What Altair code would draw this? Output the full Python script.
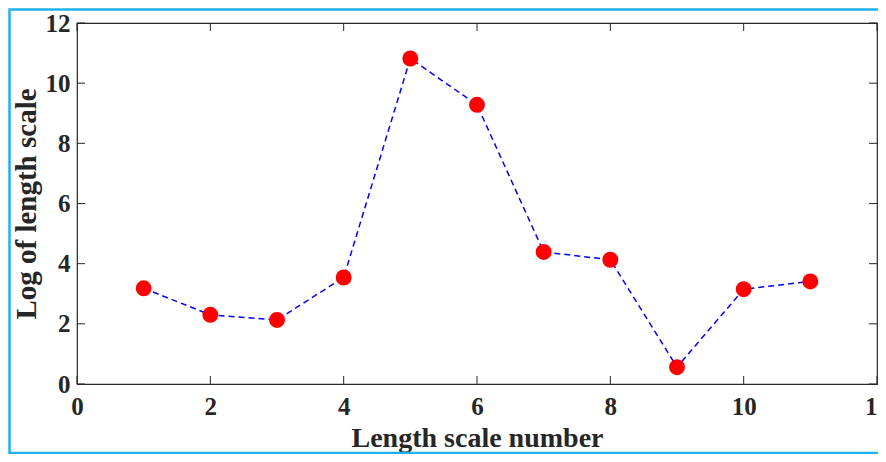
import altair as alt
import pandas as pd

scale_number = [1, 2, 3, 4, 5, 6, 7, 8, 9, 10, 11]
log_length = [3.18, 2.30, 2.13, 3.54, 10.82, 9.28, 4.39, 4.13, 0.56, 3.15, 3.41]
tick_values = [0, 2, 4, 6, 8, 10, 12]

FONT = "Liberation Serif"
INK = "#262626"
W, H = 800, 361

df = pd.DataFrame({"n": scale_number, "v": log_length})
ticks = pd.DataFrame({"t": tick_values})

xs = alt.Scale(domain=[0, 12], nice=False)
ys = alt.Scale(domain=[0, 12], nice=False)

xaxis = alt.Axis(values=tick_values, title="Length scale number", grid=False, domain=False,
                 ticks=False, labelFlush=False, labelOverlap=False, labelPadding=10,
                 labelFont=FONT, labelFontSize=25, labelFontWeight="bold", labelColor=INK,
                 titleFont=FONT, titleFontSize=28, titleFontWeight="bold", titleColor=INK,
                 titleBaseline="alphabetic", titleY=62, format="d")
yaxis = alt.Axis(values=tick_values, title="Log of length scale", grid=False, domain=False,
                 ticks=False, labelFlush=False, labelOverlap=False, labelPadding=7,
                 labelFont=FONT, labelFontSize=25, labelFontWeight="bold", labelColor=INK,
                 titleFont=FONT, titleFontSize=29, titleFontWeight="bold", titleColor=INK,
                 titleBaseline="alphabetic", titleX=-42, titleY=H / 2, titleAngle=-90, format="d")

line = alt.Chart(df).mark_line(color="#0000ff", strokeWidth=1.5, strokeDash=[6, 4]).encode(
    x=alt.X("n:Q", scale=xs, axis=xaxis),
    y=alt.Y("v:Q", scale=ys, axis=yaxis),
)
points = alt.Chart(df).mark_circle(color="#ff0000", size=254, opacity=1).encode(
    x=alt.X("n:Q", scale=xs),
    y=alt.Y("v:Q", scale=ys),
)

tick_style = dict(color=INK, strokeWidth=1)
xb = alt.Chart(ticks).mark_rule(**tick_style).encode(x=alt.X("t:Q", scale=xs), y=alt.value(H), y2=alt.value(H - 8))
xt = alt.Chart(ticks).mark_rule(**tick_style).encode(x=alt.X("t:Q", scale=xs), y=alt.value(0), y2=alt.value(8))
yl = alt.Chart(ticks).mark_rule(**tick_style).encode(y=alt.Y("t:Q", scale=ys), x=alt.value(0), x2=alt.value(8))
yr = alt.Chart(ticks).mark_rule(**tick_style).encode(y=alt.Y("t:Q", scale=ys), x=alt.value(W - 8), x2=alt.value(W))

frame = alt.Chart(pd.DataFrame({"a": [0]})).mark_rect(
    filled=False, stroke="#1eb2f0", strokeWidth=2.5, clip=False
).encode(x=alt.value(-67.5), x2=alt.value(812), y=alt.value(-13.5), y2=alt.value(430))

chart = alt.layer(frame, xb, xt, yl, yr, line, points).properties(
    width=W, height=H,
    padding={"left": 69, "top": 15, "right": 1, "bottom": 70},
    autosize=alt.AutoSizeParams(type="none"),
    background="white",
).configure_view(stroke=INK, strokeWidth=1.2)

chart.save("out.html", embed_options={"renderer": "svg", "actions": False})
